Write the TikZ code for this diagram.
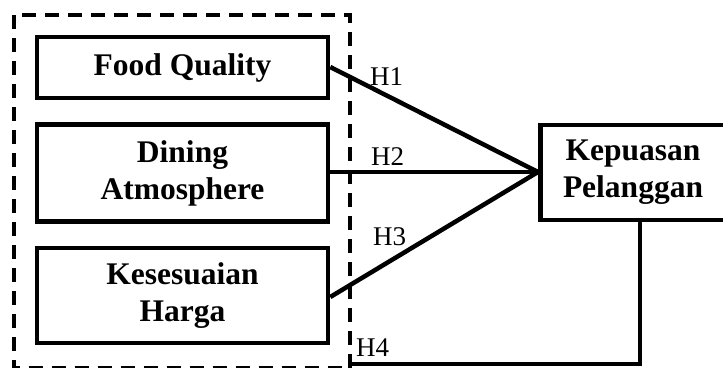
\documentclass[tikz,border=0pt]{standalone}
\usepackage{fontspec}
\setmainfont{Liberation Serif}
\begin{document}
\begin{tikzpicture}[x=1pt,y=-1pt,
  varbox/.style={draw=black,line width=4.5pt,fill=white,minimum width=291pt,align=center,font=\fontsize{31.5}{37}\selectfont\bfseries,inner sep=0pt},
  link/.style={draw=black,line width=4.5pt},
  hlab/.style={font=\fontsize{27}{30}\selectfont,inner sep=0pt,anchor=base west}]
\useasboundingbox (0,0) rectangle (723,367);
\draw[line width=4.5pt,dash pattern=on 14pt off 9pt] (14,15) rectangle (350,368.5);
\node[varbox,minimum height=61pt] (fq) at (182.5,67.5) {Food Quality};
\node[varbox,minimum height=97pt] (da) at (182.5,173) {Dining\\Atmosphere};
\node[varbox,minimum height=95pt] (kh) at (182.5,295.5) {Kesesuaian\\Harga};
\node[draw=black,line width=4.5pt,minimum width=200pt,minimum height=95pt,inner sep=0pt,anchor=west] (kp) at (538,172.5) {};
\node[align=center,font=\fontsize{31.5}{37}\selectfont\bfseries,inner sep=0pt] (kpt) at (633,172.5) {Kepuasan\\Pelanggan};
\coordinate (conv) at (538,172);
\coordinate (h4end) at (348,364);
\draw[link] (fq.east |- 0,67) -- (conv);
\draw[link] (da.east |- 0,172) -- (conv);
\draw[link] (kh.east |- 0,297) -- (conv);
\draw[link] (kp.south -| 640,0) |- (h4end);
\node[hlab] (h1) at (370,85) {H1};
\node[hlab] (h2) at (371,165) {H2};
\node[hlab] (h3) at (373,245) {H3};
\node[hlab] (h4) at (356,356) {H4};
\end{tikzpicture}
\end{document}
